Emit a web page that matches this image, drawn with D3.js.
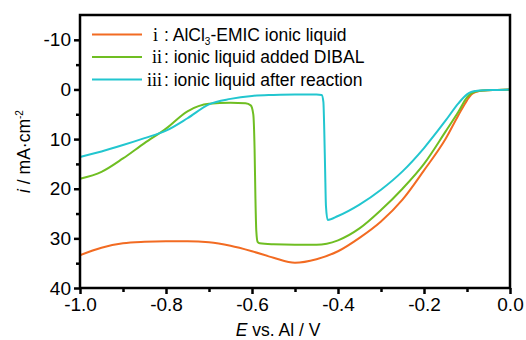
<!DOCTYPE html>
<html>
<head>
<meta charset="utf-8">
<script src="https://cdn.jsdelivr.net/npm/d3@7"></script>
<style>
  body { margin: 0; background: #fff; }
  svg text { font-family: Arial, "Liberation Sans", sans-serif; fill: #000; }
</style>
</head>
<body>
<div id="chart"></div>
<script>
// potential (V vs Al) and current density (mA/cm2)
var potI = [-1.0, -0.95, -0.9, -0.85, -0.8, -0.75, -0.7, -0.65, -0.6, -0.55, -0.5, -0.45, -0.4, -0.35, -0.3, -0.25, -0.2, -0.15, -0.12, -0.1, -0.09, -0.08, -0.06, -0.03, 0.0];
var curI = [33.4, 31.9, 31.0, 30.7, 30.6, 30.6, 30.8, 31.5, 32.6, 33.9, 34.9, 34.2, 32.6, 29.9, 26.6, 22.2, 16.3, 10.0, 5.2, 2.2, 1.0, 0.5, 0.2, 0.1, 0.0];

var potII = [-1.0, -0.95, -0.9, -0.85, -0.8, -0.75, -0.7, -0.65, -0.615, -0.603, -0.597, -0.594, -0.592, -0.59, -0.587, -0.582, -0.55, -0.5, -0.45, -0.4, -0.35, -0.3, -0.25, -0.2, -0.15, -0.12, -0.1, -0.09, -0.08, -0.06, -0.03, 0.0];
var curII = [18.0, 16.6, 13.9, 10.8, 7.9, 4.4, 2.9, 2.7, 2.8, 3.2, 5.0, 12.0, 22.0, 28.5, 30.7, 31.0, 31.2, 31.3, 31.3, 30.4, 28.0, 24.3, 20.0, 15.0, 8.5, 4.5, 1.6, 0.8, 0.4, 0.2, 0.1, 0.0];

var potIII = [-1.0, -0.95, -0.9, -0.85, -0.8, -0.75, -0.7, -0.65, -0.6, -0.55, -0.5, -0.45, -0.438, -0.434, -0.432, -0.43, -0.428, -0.424, -0.4, -0.35, -0.3, -0.25, -0.2, -0.15, -0.12, -0.1, -0.09, -0.08, -0.06, -0.03, 0.0];
var curIII = [13.6, 12.5, 11.2, 9.8, 8.3, 5.8, 3.0, 1.9, 1.3, 1.1, 1.0, 1.0, 1.1, 2.5, 8.0, 16.0, 23.5, 26.3, 25.5, 23.2, 20.2, 16.5, 11.8, 6.3, 2.8, 1.0, 0.5, 0.3, 0.15, 0.1, 0.0];

var seriesNames = ["i", "ii", "iii"];
var seriesLabels = ["AlCl3-EMIC ionic liquid", "ionic liquid added DIBAL", "ionic liquid after reaction"];
var seriesColors = ["#f26b22", "#6fbe22", "#22c6cf"];

var xTicks = [-1.0, -0.8, -0.6, -0.4, -0.2, 0.0];
var xMinorTicks = [-0.9, -0.7, -0.5, -0.3, -0.1];
var yTicks = [-10, 0, 10, 20, 30, 40];
var yMinorTicks = [-5, 5, 15, 25, 35];

(function () {
    'use strict';
    var width = 526, height = 340;
    var margin = { top: 15, right: 16, bottom: 52, left: 80 };

    var svg = d3.select('#chart').append('svg')
        .attr('width', width)
        .attr('height', height);

    var x = d3.scaleLinear().domain([-1, 0]).range([margin.left, width - margin.right]);
    var y = d3.scaleLinear().domain([-15, 40]).range([margin.top, height - margin.bottom]);

    var series = [
        { pot: potI, cur: curI },
        { pot: potII, cur: curII },
        { pot: potIII, cur: curIII }
    ];

    var line = d3.line()
        .curve(d3.curveMonotoneX)
        .x(function (d) { return x(d[0]); })
        .y(function (d) { return y(d[1]); });

    // curves
    series.forEach(function (s, i) {
        var pts = s.pot.map(function (p, k) { return [p, s.cur[k]]; });
        svg.append('path')
            .datum(pts)
            .attr('fill', 'none')
            .attr('stroke', seriesColors[i])
            .attr('stroke-width', 2)
            .attr('d', line);
    });

    // frame
    svg.append('rect')
        .attr('x', margin.left)
        .attr('y', margin.top)
        .attr('width', width - margin.left - margin.right)
        .attr('height', height - margin.top - margin.bottom)
        .attr('fill', 'none')
        .attr('stroke', '#000')
        .attr('stroke-width', 2.5);

    // axes
    svg.append('g')
        .attr('transform', 'translate(0,' + (height - margin.bottom) + ')')
        .call(d3.axisBottom(x).tickValues(xTicks).tickSize(6).tickPadding(4)
            .tickFormat(function (d) { return d.toFixed(1); }));
    svg.append('g')
        .attr('transform', 'translate(0,' + (height - margin.bottom) + ')')
        .call(d3.axisBottom(x).tickValues(xMinorTicks).tickSize(4).tickFormat(''));

    svg.append('g')
        .attr('transform', 'translate(' + margin.left + ',0)')
        .call(d3.axisLeft(y).tickValues(yTicks).tickSize(6).tickPadding(3)
            .tickFormat(function (d) { return String(d); }));
    svg.append('g')
        .attr('transform', 'translate(' + margin.left + ',0)')
        .call(d3.axisLeft(y).tickValues(yMinorTicks).tickSize(4).tickFormat(''));

    svg.selectAll('.domain').remove();
    svg.selectAll('.tick line').attr('stroke', '#000').attr('stroke-width', 2.5);
    svg.selectAll('.tick text').style('font-size', '19px').attr('fill', '#000');

    // axis titles
    var xt = svg.append('text')
        .attr('x', 278)
        .attr('y', 336)
        .attr('text-anchor', 'middle')
        .style('font-size', '17.5px');
    xt.append('tspan').style('font-style', 'italic').text('E');
    xt.append('tspan').text(' vs. Al / V');

    var yt = svg.append('text')
        .attr('transform', 'translate(30,' + ((margin.top + height - margin.bottom) / 2) + ') rotate(-90)')
        .attr('text-anchor', 'middle')
        .style('font-size', '17.5px');
    yt.append('tspan').style('font-style', 'italic').text('i');
    yt.append('tspan').text(' / mA\u00b7cm');
    yt.append('tspan').attr('dy', -7).style('font-size', '10px').text('-2');

    // legend
    var legendY = [34.5, 57, 79.5];
    seriesNames.forEach(function (n, i) {
        var ly = legendY[i];
        svg.append('line')
            .attr('x1', 92).attr('x2', 142)
            .attr('y1', ly).attr('y2', ly)
            .attr('stroke', seriesColors[i])
            .attr('stroke-width', 2);
        svg.append('text')
            .attr('x', i === 0 ? 158 : 162).attr('y', ly + 6)
            .attr('text-anchor', 'end')
            .style('font-family', '"Liberation Serif", "Times New Roman", serif')
            .style('font-size', '18px')
            .text(n);
        var t = svg.append('text')
            .attr('x', 164).attr('y', ly + 6)
            .style('font-size', '17.5px');
        if (i === 0) {
            t.append('tspan').text(': AlCl');
            t.append('tspan').attr('dy', 4).style('font-size', '10px').text('3');
            t.append('tspan').attr('dy', -4).text('-EMIC ionic liquid');
        } else {
            t.text(': ' + seriesLabels[i]);
        }
    });
})();
</script>
</body>
</html>
